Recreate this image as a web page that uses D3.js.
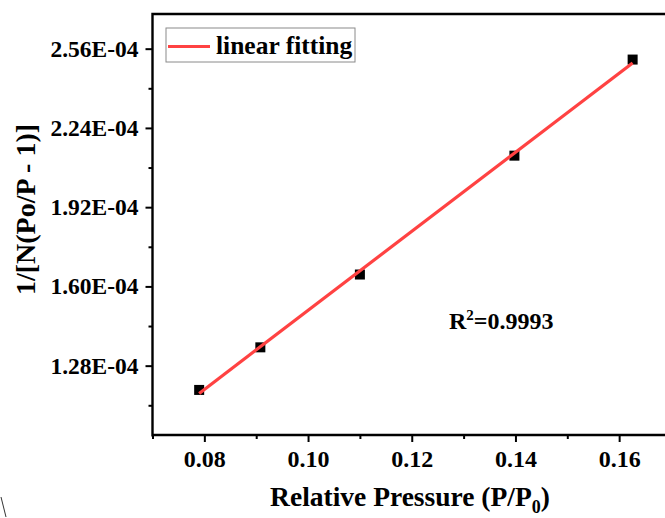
<!DOCTYPE html>
<html>
<head>
<meta charset="utf-8">
<script src="https://cdn.jsdelivr.net/npm/d3@7"></script>
<style>
  body { margin: 0; background: #fff; }
  svg { display: block; }
  text { font-family: "Liberation Serif", "Times New Roman", serif; font-weight: bold; fill: #000; }
</style>
</head>
<body>
<svg id="chart" width="665" height="518"></svg>
<script>
// data
const pressure = [0.0790, 0.0908, 0.1100, 0.1398, 0.1626];
const bet = [1.182e-4, 1.354e-4, 1.648e-4, 2.128e-4, 2.516e-4];
const xTicks = [0.08, 0.10, 0.12, 0.14, 0.16];
const xMinor = [0.07, 0.09, 0.11, 0.13, 0.15];
const yTicks = [1.28e-4, 1.60e-4, 1.92e-4, 2.24e-4, 2.56e-4];
const yMinor = [1.12e-4, 1.44e-4, 1.76e-4, 2.08e-4, 2.40e-4];
const legendLabel = "linear fitting";
const r2Label = "0.9993";

const svg = d3.select("#chart");
const plotL = 152.5, plotR = 671, plotT = 14, plotB = 435;

const x = d3.scaleLinear().domain([0.07, 0.17]).range([plotL, plotR]);
const y = d3.scaleLinear().domain([1.0e-4, 2.7e-4]).range([plotB, plotT]);

// minor ticks first, majors over them
svg.append("g")
    .attr("transform", `translate(0,${plotB})`)
    .call(d3.axisBottom(x).tickValues(xMinor).tickSize(4).tickFormat(""))
    .call(g => g.select(".domain").remove())
    .call(g => g.selectAll("line").attr("stroke-width", 2));

svg.append("g")
    .attr("transform", `translate(${plotL},0)`)
    .call(d3.axisLeft(y).tickValues(yMinor).tickSize(4).tickFormat(""))
    .call(g => g.select(".domain").remove())
    .call(g => g.selectAll("line").attr("stroke-width", 2));

// major x axis
svg.append("g")
    .attr("transform", `translate(0,${plotB})`)
    .call(d3.axisBottom(x).tickValues(xTicks).tickSize(7).tickPadding(8).tickFormat(d3.format(".2f")))
    .call(g => g.select(".domain").remove())
    .call(g => g.selectAll("line").attr("stroke-width", 2))
    .call(g => g.selectAll("text")
        .attr("font-size", 24)
        .style("font-family", "Liberation Serif")
        .style("font-weight", "bold"));

// major y axis
svg.append("g")
    .attr("transform", `translate(${plotL},0)`)
    .call(d3.axisLeft(y).tickValues(yTicks).tickSize(7).tickPadding(7)
        .tickFormat(d => (d * 1e4).toFixed(2) + "E-04"))
    .call(g => g.select(".domain").remove())
    .call(g => g.selectAll("line").attr("stroke-width", 2))
    .call(g => g.selectAll("text")
        .attr("font-size", 23.5)
        .style("font-family", "Liberation Serif")
        .style("font-weight", "bold"));

// frame (right side runs off the picture)
svg.append("path")
    .attr("d", `M${plotR},${plotT}H${plotL}V${plotB + 1.5}M${plotL - 1},${plotB}H${plotR}`)
    .attr("fill", "none")
    .attr("stroke", "#000")
    .attr("stroke-width", 2.4);

// least-squares fit
const mx = d3.mean(pressure), my = d3.mean(bet);
const slope = d3.sum(pressure, (p, i) => (p - mx) * (bet[i] - my)) / d3.sum(pressure, p => (p - mx) ** 2);
const intercept = my - slope * mx;
const fitX = d3.extent(pressure);

// points
svg.append("g")
    .selectAll("rect")
    .data(pressure)
    .join("rect")
    .attr("x", (d) => x(d) - 5)
    .attr("y", (d, i) => y(bet[i]) - 5)
    .attr("width", 10)
    .attr("height", 10)
    .attr("fill", "#000");

svg.append("line")
    .attr("x1", x(fitX[0])).attr("y1", y(slope * fitX[0] + intercept))
    .attr("x2", x(fitX[1])).attr("y2", y(slope * fitX[1] + intercept))
    .attr("stroke", "#ff4242")
    .attr("stroke-width", 3.2);

// legend
const legend = svg.append("g");
legend.append("rect")
    .attr("x", 166).attr("y", 28)
    .attr("width", 189).attr("height", 34)
    .attr("fill", "#fff")
    .attr("stroke", "#8a8a8a")
    .attr("stroke-width", 1);
legend.append("line")
    .attr("x1", 168).attr("x2", 210)
    .attr("y1", 46.5).attr("y2", 46.5)
    .attr("stroke", "#ff4242")
    .attr("stroke-width", 3.2);
legend.append("text")
    .attr("x", 216).attr("y", 54)
    .attr("font-size", 25.5)
    .text(legendLabel);

// R^2 label
const r2 = svg.append("text")
    .attr("x", 449).attr("y", 328.5)
    .attr("font-size", 24);
r2.append("tspan").text("R");
r2.append("tspan").attr("font-size", 15).attr("dy", -9).text("2");
r2.append("tspan").attr("dy", 9).text("=" + r2Label);

// axis titles
svg.append("text")
    .attr("x", 410).attr("y", 506)
    .attr("text-anchor", "middle")
    .attr("font-size", 27.5)
    .call(t => {
        t.append("tspan").text("Relative Pressure (P/P");
        t.append("tspan").attr("font-size", 18).attr("dy", 7).text("0");
        t.append("tspan").attr("dy", -7).text(")");
    });

svg.append("text")
    .attr("transform", "translate(34.5,209.5) rotate(-90)")
    .attr("text-anchor", "middle")
    .attr("font-size", 28)
    .text("1/[N(Po/P - 1)]");

// stray stroke in the bottom-left corner of the original
svg.append("path")
    .attr("d", "M1,497L6,517")
    .attr("stroke", "#333")
    .attr("stroke-width", 1);
</script>
</body>
</html>
